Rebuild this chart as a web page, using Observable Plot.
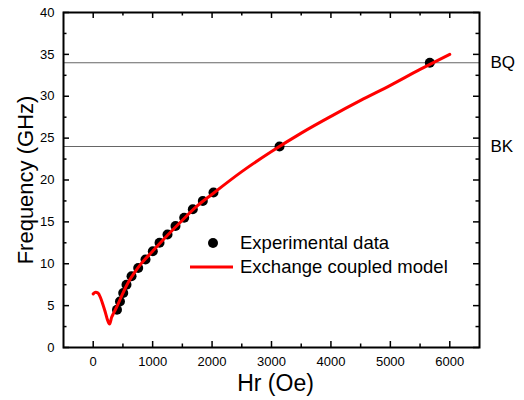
<!DOCTYPE html>
<html><head><meta charset="utf-8">
<script src="https://cdn.jsdelivr.net/npm/d3@7"></script>
<script src="https://cdn.jsdelivr.net/npm/@observablehq/plot@0.6"></script>
<style>body{margin:0;background:#fff}</style>
</head><body><div id="chart"></div>
<script>
// Experimental data
const expHr   = [400, 450, 505, 560, 645, 757, 880, 1003, 1116, 1250, 1385, 1531, 1676, 1844, 2024, 3135, 5664];
const expFreq = [4.5, 5.5, 6.5, 7.5, 8.5, 9.5, 10.5, 11.5, 12.5, 13.5, 14.5, 15.5, 16.5, 17.5, 18.5, 24, 34];
// Exchange coupled model
const modelHr   = [0, 40, 80, 120, 160, 200, 240, 275, 310, 350, 400, 450, 500, 600, 700, 800, 1000, 1250, 1500, 1750, 2000, 2500, 3000, 3500, 4000, 4500, 5000, 5500, 6000];
const modelFreq = [6.4, 6.6, 6.5, 6.0, 5.2, 4.3, 3.3, 2.8, 3.6, 4.2, 4.9, 5.7, 6.5, 7.9, 9.0, 9.95, 11.5, 13.4, 15.2, 16.9, 18.3, 21.0, 23.4, 25.6, 27.6, 29.5, 31.3, 33.2, 35.0];
// Reference levels
const refLevels = [34, 24];
const refLabels = ["BQ", "BK"];
// Ticks
const xMajorTicks = [0, 1000, 2000, 3000, 4000, 5000, 6000];
const xMinorTicks = [500, 1500, 2500, 3500, 4500, 5500];
const yMajorTicks = [0, 5, 10, 15, 20, 25, 30, 35, 40];
const yMinorTicks = [2.5, 7.5, 12.5, 17.5, 22.5, 27.5, 32.5, 37.5];
const legendLabels = ["Experimental data", "Exchange coupled model"];

const W = 524, H = 400;
const mL = 63, mR = 45, mT = 12, mB = 53;
const fw = W - mL - mR, fh = H - mT - mB;

const expData = expHr.map((h, i) => ({h, f: expFreq[i]}));
const modelData = modelHr.map((h, i) => ({h, f: modelFreq[i]}));
const refData = refLevels.map((v, i) => ({v, label: refLabels[i]}));

function legend(index, scales, values, dims) {
  const g = d3.create("svg:g")
    .attr("font-family", "Liberation Sans, Arial, sans-serif")
    .attr("font-size", 18.5)
    .attr("text-anchor", "start");
  const x0 = dims.marginLeft + 150, y0 = dims.marginTop + 231;
  g.append("circle").attr("cx", x0).attr("cy", y0).attr("r", 5).attr("fill", "black");
  g.append("text").attr("x", x0 + 27).attr("y", y0).attr("dy", "0.35em").attr("text-anchor", "start").text(legendLabels[0]);
  g.append("line").attr("x1", x0 - 23).attr("x2", x0 + 20).attr("y1", y0 + 24).attr("y2", y0 + 24)
    .attr("stroke", "#ff0000").attr("stroke-width", 3);
  g.append("text").attr("x", x0 + 27).attr("y", y0 + 24).attr("dy", "0.35em").attr("text-anchor", "start").text(legendLabels[1]);
  return g.node();
}

const tickStyle = {stroke: "black", strokeWidth: 1.5};
const chart = Plot.plot({
  width: W, height: H,
  marginLeft: mL, marginRight: mR, marginTop: mT, marginBottom: mB,
  style: {fontFamily: "Liberation Sans, Arial, sans-serif", fontSize: "13px", background: "white", color: "black"},
  x: {domain: [-500, 6500]},
  y: {domain: [0, 40]},
  marks: [
    Plot.ruleY(refData, {y: "v", stroke: "#666", strokeWidth: 1.2}),
    Plot.text(refData, {y: "v", text: "label", frameAnchor: "right", dx: 11, textAnchor: "start", fontSize: 17}),
    // inward ticks: bottom, top
    Plot.tickX(xMajorTicks, {x: d => d, insetTop: fh - 6, ...tickStyle}),
    Plot.tickX(xMinorTicks, {x: d => d, insetTop: fh - 3.5, ...tickStyle}),
    Plot.tickX(xMajorTicks, {x: d => d, insetBottom: fh - 6, ...tickStyle}),
    Plot.tickX(xMinorTicks, {x: d => d, insetBottom: fh - 3.5, ...tickStyle}),
    // inward ticks: left, right
    Plot.tickY(yMajorTicks, {y: d => d, insetRight: fw - 6, ...tickStyle}),
    Plot.tickY(yMinorTicks, {y: d => d, insetRight: fw - 3.5, ...tickStyle}),
    Plot.tickY(yMajorTicks, {y: d => d, insetLeft: fw - 6, ...tickStyle}),
    Plot.tickY(yMinorTicks, {y: d => d, insetLeft: fw - 3.5, ...tickStyle}),
    Plot.axisX({anchor: "bottom", ticks: xMajorTicks, tickSize: 0, tickPadding: 9, tickFormat: "d", label: null, fontSize: 13}),
    Plot.axisY({anchor: "left", ticks: yMajorTicks, tickSize: 0, tickPadding: 9, tickFormat: "d", label: null, fontSize: 13}),
    Plot.text(["Frequency (GHz)"], {frameAnchor: "left", dx: -38, rotate: -90, textAnchor: "middle", lineAnchor: "middle", fontSize: 22}),
    Plot.text(["Hr (Oe)"], {frameAnchor: "bottom", dy: 36, dx: 4, textAnchor: "middle", lineAnchor: "middle", fontSize: 23}),
    Plot.dot(expData, {x: "h", y: "f", r: 5, fill: "black"}),
    Plot.line(modelData, {x: "h", y: "f", stroke: "#ff0000", strokeWidth: 3, curve: "monotone-x"}),
    legend,
    Plot.frame({stroke: "black", strokeWidth: 2})
  ]
});
document.getElementById("chart").append(chart);
</script>
</body></html>
